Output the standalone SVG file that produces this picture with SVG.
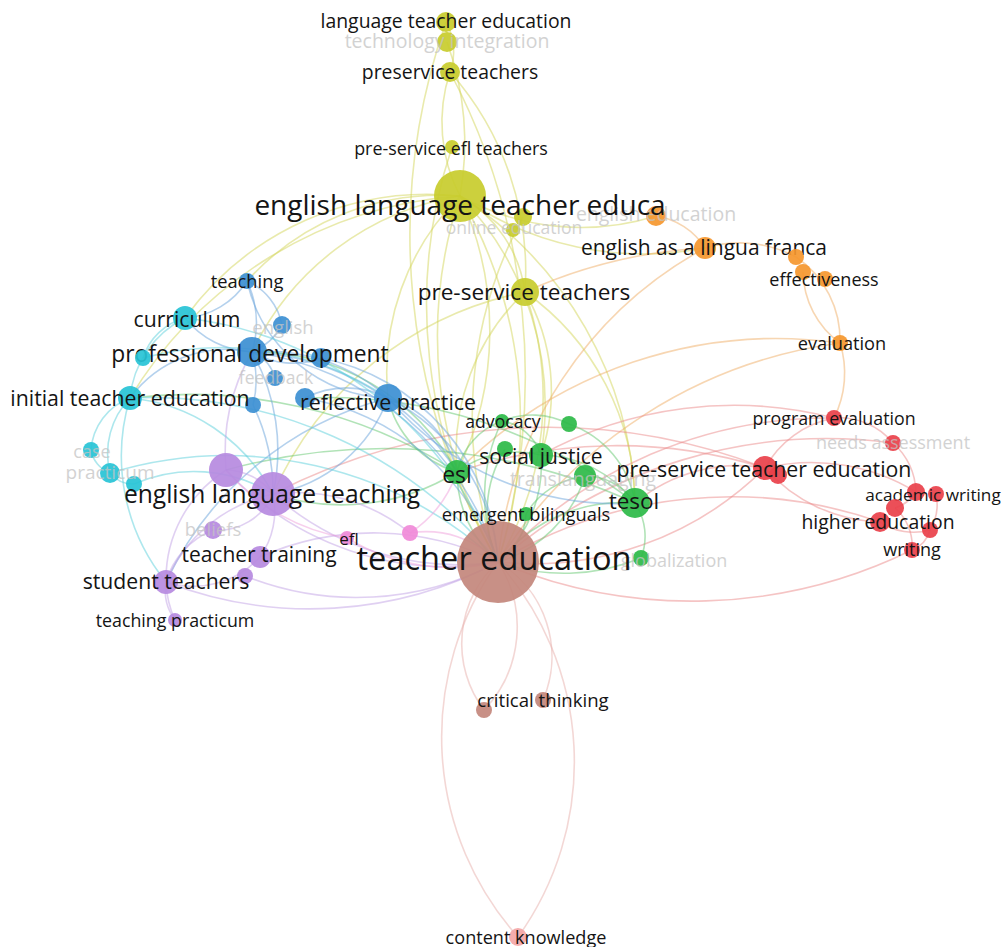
<svg xmlns="http://www.w3.org/2000/svg" width="1008" height="947" viewBox="0 0 1008 947">
<style>
text{font-family:"Open Sans","DejaVu Sans",sans-serif;text-anchor:middle;dominant-baseline:central;fill:#141414}
.f{fill:#c4c4c4;opacity:0.75}
.e path{fill:none;stroke-width:1.6;stroke-opacity:0.5}
.ey path{stroke:#d3d65a}.eo path{stroke:#efae66}.er path{stroke:#eb8a8a}.eg path{stroke:#63c86f}
.eb path{stroke:#6aa3dc}.ec path{stroke:#5ccfdb}.ep path{stroke:#c1a2e6}.ek path{stroke:#f0a0dc}.en path{stroke:#e8b0ac}
.y{fill:#c8cc2c}.o{fill:#f5972e}.r{fill:#e9404a}.g{fill:#2cba48}.n{fill:#c3877c}.b{fill:#3c8fd2}.c{fill:#27c3d6}.p{fill:#b68ae0}.k{fill:#f08ad8}.ck{fill:#f4a6a6}
circle{fill-opacity:0.92}
</style>
<rect width="1008" height="947" fill="#ffffff"/>
<g id="connectors" class="e">
<g class="ey">
<path d="M446 22 A60 60 0 0 1 450 72"/>
<path d="M446 22 A650 650 0 0 0 498 562"/>
<path d="M450 72 A650 650 0 0 1 498 562"/>
<path d="M450 72 A300 300 0 0 1 525 292"/>
<path d="M450 72 A160 160 0 0 0 460 196"/>
<path d="M447 42 A300 300 0 0 1 460 196"/>
<path d="M452 147 A500 500 0 0 0 498 562"/>
<path d="M460 196 A450 450 0 0 1 498 562"/>
<path d="M460 196 A450 450 0 0 0 498 562"/>
<path d="M460 196 A130 130 0 0 1 525 292"/>
<path d="M460 196 A280 280 0 0 0 252 352"/>
<path d="M460 196 A300 300 0 0 0 185 318"/>
<path d="M460 196 A260 260 0 0 0 247 281"/>
<path d="M460 196 A420 420 0 0 0 130 398"/>
<path d="M460 196 A250 250 0 0 0 656 216"/>
<path d="M460 196 A320 320 0 0 0 705 248"/>
<path d="M460 196 A320 320 0 0 1 457 472"/>
<path d="M460 196 A300 300 0 0 1 541 455"/>
<path d="M460 196 A380 380 0 0 1 635 503"/>
<path d="M460 196 A250 250 0 0 0 388 398"/>
<path d="M525 292 A320 320 0 0 1 498 562"/>
<path d="M525 292 A220 220 0 0 0 457 472"/>
<path d="M525 292 A260 260 0 0 1 635 503"/>
<path d="M525 292 A350 350 0 0 0 273 494"/>
<path d="M525 292 A200 200 0 0 1 541 455"/>
<path d="M523 217 A420 420 0 0 0 498 562"/>
</g>
<g class="eo">
<path d="M656 216 A70 70 0 0 1 705 248"/>
<path d="M705 248 A120 120 0 0 1 796 257"/>
<path d="M705 248 A400 400 0 0 0 498 562"/>
<path d="M803 272 A90 90 0 0 0 840 343"/>
<path d="M796 257 A100 100 0 0 1 840 343"/>
<path d="M840 343 A480 480 0 0 0 498 562"/>
<path d="M840 343 A100 100 0 0 1 834 418"/>
<path d="M840 343 A450 450 0 0 0 457 472"/>
<path d="M705 248 A500 500 0 0 0 525 292"/>
</g>
<g class="er">
<path d="M765 468 A100 100 0 0 1 834 418"/>
<path d="M765 468 A160 160 0 0 0 880 522"/>
<path d="M765 468 A200 200 0 0 1 916 492"/>
<path d="M765 468 A330 330 0 0 1 498 562"/>
<path d="M765 468 A160 160 0 0 0 635 503"/>
<path d="M765 468 A600 600 0 0 0 273 494"/>
<path d="M834 418 A70 70 0 0 1 893 443"/>
<path d="M893 443 A70 70 0 0 1 916 492"/>
<path d="M916 492 A40 40 0 0 1 895 508"/>
<path d="M895 508 A50 50 0 0 1 912 550"/>
<path d="M912 550 A30 30 0 0 0 930 530"/>
<path d="M936 494 A50 50 0 0 1 930 530"/>
<path d="M880 522 A60 60 0 0 0 930 530"/>
<path d="M498 562 A500 500 0 0 0 912 550"/>
<path d="M498 562 A450 450 0 0 1 880 522"/>
<path d="M498 562 A450 450 0 0 1 834 418"/>
<path d="M541 455 A400 400 0 0 1 834 418"/>
<path d="M457 472 A500 500 0 0 1 765 468"/>
<path d="M498 562 A500 500 0 0 1 893 443"/>
</g>
<g class="eg">
<path d="M502 421 A50 50 0 0 1 541 455"/>
<path d="M502 421 A70 70 0 0 0 457 472"/>
<path d="M502 421 A170 170 0 0 0 498 562"/>
<path d="M502 421 A80 80 0 0 1 569 424"/>
<path d="M569 424 A100 100 0 0 1 635 503"/>
<path d="M541 455 A120 120 0 0 1 635 503"/>
<path d="M541 455 A130 130 0 0 1 498 562"/>
<path d="M541 455 A100 100 0 0 0 457 472"/>
<path d="M505 449 A120 120 0 0 0 498 562"/>
<path d="M585 476 A60 60 0 0 1 635 503"/>
<path d="M585 476 A130 130 0 0 1 498 562"/>
<path d="M585 476 A80 80 0 0 0 526 514"/>
<path d="M457 472 A120 120 0 0 0 498 562"/>
<path d="M457 472 A230 230 0 0 0 252 352"/>
<path d="M457 472 A220 220 0 0 1 273 494"/>
<path d="M457 472 A100 100 0 0 1 388 398"/>
<path d="M635 503 A160 160 0 0 0 498 562"/>
<path d="M635 503 A60 60 0 0 1 641 558"/>
<path d="M635 503 A600 600 0 0 0 226 470"/>
<path d="M635 503 A500 500 0 0 0 305 398"/>
<path d="M526 514 A60 60 0 0 1 498 562"/>
<path d="M641 558 A200 200 0 0 1 498 562"/>
<path d="M457 472 A500 500 0 0 0 130 398"/>
</g>
<g class="eb">
<path d="M247 281 A80 80 0 0 1 185 318"/>
<path d="M247 281 A100 100 0 0 1 252 352"/>
<path d="M247 281 A60 60 0 0 1 282 325"/>
<path d="M247 281 A150 150 0 0 0 388 398"/>
<path d="M252 352 A180 180 0 0 1 388 398"/>
<path d="M252 352 A60 60 0 0 0 282 325"/>
<path d="M252 352 A40 40 0 0 1 275 378"/>
<path d="M252 352 A80 80 0 0 0 321 358"/>
<path d="M252 352 A120 120 0 0 0 130 398"/>
<path d="M252 352 A90 90 0 0 1 185 318"/>
<path d="M252 352 A300 300 0 0 1 498 562"/>
<path d="M252 352 A200 200 0 0 1 273 494"/>
<path d="M252 352 A260 260 0 0 1 457 472"/>
<path d="M388 398 A200 200 0 0 1 498 562"/>
<path d="M388 398 A90 90 0 0 0 305 398"/>
<path d="M388 398 A150 150 0 0 1 273 494"/>
<path d="M388 398 A340 340 0 0 0 166 582"/>
<path d="M388 398 A100 100 0 0 1 457 472"/>
<path d="M253 405 A100 100 0 0 0 252 352"/>
<path d="M253 405 A200 200 0 0 1 273 494"/>
<path d="M321 358 A220 220 0 0 1 498 562"/>
<path d="M305 398 A250 250 0 0 1 498 562"/>
<path d="M388 398 A300 300 0 0 0 635 503"/>
</g>
<g class="ec">
<path d="M185 318 A100 100 0 0 0 130 398"/>
<path d="M185 318 A60 60 0 0 0 143 358"/>
<path d="M185 318 A380 380 0 0 1 498 562"/>
<path d="M130 398 A60 60 0 0 0 91 450"/>
<path d="M130 398 A80 80 0 0 0 110 473"/>
<path d="M130 398 A180 180 0 0 1 273 494"/>
<path d="M130 398 A200 200 0 0 0 166 582"/>
<path d="M130 398 A450 450 0 0 1 498 562"/>
<path d="M91 450 A30 30 0 0 0 110 473"/>
<path d="M110 473 A30 30 0 0 0 134 484"/>
<path d="M134 484 A150 150 0 0 1 273 494"/>
<path d="M110 473 A400 400 0 0 1 498 562"/>
<path d="M143 358 A300 300 0 0 1 388 398"/>
</g>
<g class="ep">
<path d="M226 470 A60 60 0 0 1 273 494"/>
<path d="M273 494 A60 60 0 0 1 213 530"/>
<path d="M273 494 A80 80 0 0 1 260 557"/>
<path d="M273 494 A150 150 0 0 0 166 582"/>
<path d="M273 494 A280 280 0 0 0 498 562"/>
<path d="M273 494 A180 180 0 0 1 410 533"/>
<path d="M226 470 A300 300 0 0 0 498 562"/>
<path d="M226 470 A130 130 0 0 0 166 582"/>
<path d="M226 470 A200 200 0 0 1 252 352"/>
<path d="M213 530 A80 80 0 0 0 166 582"/>
<path d="M260 557 A280 280 0 0 1 498 562"/>
<path d="M260 557 A90 90 0 0 1 166 582"/>
<path d="M166 582 A50 50 0 0 0 175 620"/>
<path d="M166 582 A400 400 0 0 0 498 562"/>
<path d="M245 576 A300 300 0 0 0 498 562"/>
<path d="M175 620 A100 100 0 0 1 166 582"/>
</g>
<g class="ek">
<path d="M347 538 A200 200 0 0 0 498 562"/>
<path d="M410 533 A100 100 0 0 1 498 562"/>
<path d="M410 533 A120 120 0 0 0 457 472"/>
<path d="M347 538 A200 200 0 0 1 226 470"/>
</g>
<g class="en">
<path d="M498 562 A110 110 0 0 0 484 710"/>
<path d="M498 562 A110 110 0 0 1 543 700"/>
<path d="M498 562 A120 120 0 0 1 484 710"/>
<path d="M498 562 A300 300 0 0 0 518 937"/>
<path d="M498 562 A300 300 0 0 1 518 937"/>
</g>
</g>

<g id="n-technology-integration"><circle class="y" cx="447" cy="42" r="10"/><text class="f" x="447" y="40" font-size="19.5">technology integration</text></g>
<g id="n-english-education"><circle class="o" cx="656" cy="216" r="10"/><text class="f" x="656" y="213" font-size="19.5">english education</text></g>
<g id="n-online-education"><circle class="y" cx="523" cy="217" r="9"/><circle class="y" cx="513" cy="230" r="7"/><text class="f" x="514" y="227" font-size="17.5">online education</text></g>
<g id="n-english"><circle class="b" cx="282" cy="325" r="9"/><text class="f" x="283" y="326" font-size="18.5">english</text></g>
<g id="n-feedback"><circle class="b" cx="275" cy="378" r="8"/><text class="f" x="276" y="377" font-size="17.5">feedback</text></g>
<g id="n-case"><circle class="c" cx="91" cy="450" r="8"/><text class="f" x="92" y="451" font-size="18">case</text></g>
<g id="n-practicum"><circle class="c" cx="110" cy="473" r="10"/><circle class="c" cx="134" cy="484" r="8"/><text class="f" x="110" y="472" font-size="19">practicum</text></g>
<g id="n-beliefs"><circle class="p" cx="213" cy="530" r="9"/><text class="f" x="213" y="528" font-size="18.5">beliefs</text></g>
<g id="n-translanguaging"><circle class="g" cx="585" cy="476" r="11"/><text class="f" x="583" y="478" font-size="19.5">translanguaging</text></g>
<g id="n-needs-assessment"><circle class="r" cx="893" cy="443" r="8"/><text class="f" x="893" y="442" font-size="18">needs assessment</text></g>
<g id="n-globalization"><circle class="g" cx="641" cy="558" r="8"/><text class="f" x="674" y="560" font-size="18">globalization</text></g>

<g id="n-english-language-teacher-education"><circle class="y" cx="460" cy="196" r="26"/><text x="460" y="204" font-size="28">english language teacher educa</text></g>
<g id="n-teacher-education"><circle class="n" cx="498" cy="562" r="41"/><text x="494" y="557" font-size="32.6">teacher education</text></g>
<g id="n-language-teacher-education"><circle class="y" cx="446" cy="22" r="10"/><text x="446" y="20" font-size="19.4">language teacher education</text></g>
<g id="n-preservice-teachers"><circle class="y" cx="450" cy="72" r="10"/><text x="450" y="71" font-size="19.4">preservice teachers</text></g>
<g id="n-pre-service-efl-teachers"><circle class="y" cx="452" cy="147" r="7"/><text x="451" y="148" font-size="17.9">pre-service efl teachers</text></g>
<g id="n-pre-service-teachers"><circle class="y" cx="525" cy="292" r="14"/><text x="524" y="291" font-size="22.6">pre-service teachers</text></g>
<g id="n-english-as-a-lingua-franca"><circle class="o" cx="705" cy="248" r="11"/><text x="704" y="247" font-size="21">english as a lingua franca</text></g>
<g id="n-effectiveness"><circle class="o" cx="796" cy="257" r="8"/><circle class="o" cx="803" cy="272" r="8"/><circle class="o" cx="825" cy="279" r="8"/><text x="824" y="279" font-size="18">effectiveness</text></g>
<g id="n-evaluation"><circle class="o" cx="840" cy="343" r="8"/><text x="842" y="343" font-size="18.2">evaluation</text></g>
<g id="n-program-evaluation"><circle class="r" cx="834" cy="418" r="8"/><text x="834" y="418" font-size="17.8">program evaluation</text></g>
<g id="n-pre-service-teacher-education"><circle class="r" cx="765" cy="468" r="12"/><circle class="r" cx="778" cy="475" r="9"/><text x="764" y="468" font-size="21.3">pre-service teacher education</text></g>
<g id="n-academic-writing"><circle class="r" cx="916" cy="492" r="9"/><circle class="r" cx="936" cy="494" r="8"/><text x="933" y="494" font-size="17.2">academic writing</text></g>
<g id="n-higher-education"><circle class="r" cx="895" cy="508" r="9"/><circle class="r" cx="880" cy="522" r="10"/><circle class="r" cx="930" cy="530" r="8"/><text x="878" y="521" font-size="19.4">higher education</text></g>
<g id="n-writing"><circle class="r" cx="912" cy="550" r="8"/><text x="912" y="549" font-size="18">writing</text></g>
<g id="n-advocacy"><circle class="g" cx="502" cy="421" r="7"/><circle class="g" cx="569" cy="424" r="8"/><text x="503" y="421" font-size="17.6">advocacy</text></g>
<g id="n-social-justice"><circle class="g" cx="505" cy="449" r="8"/><circle class="g" cx="541" cy="455" r="12"/><text x="541" y="456" font-size="21">social justice</text></g>
<g id="n-esl"><circle class="g" cx="457" cy="472" r="12"/><text x="457" y="474" font-size="23">esl</text></g>
<g id="n-tesol"><circle class="g" cx="635" cy="503" r="15"/><text x="634" y="500" font-size="22.5">tesol</text></g>
<g id="n-emergent-bilinguals"><circle class="g" cx="526" cy="514" r="7"/><text x="526" y="513" font-size="18.3">emergent bilinguals</text></g>
<g id="n-critical-thinking"><circle class="n" cx="484" cy="710" r="8"/><circle class="n" cx="543" cy="700" r="8"/><text x="543" y="699" font-size="18.6">critical thinking</text></g>
<g id="n-content-knowledge"><circle class="ck" cx="518" cy="937" r="9"/><text x="526" y="937" font-size="18.1">content knowledge</text></g>
<g id="n-efl"><circle class="k" cx="347" cy="538" r="7"/><circle class="k" cx="410" cy="533" r="8"/><text x="349" y="538" font-size="17">efl</text></g>
<g id="n-teaching"><circle class="b" cx="247" cy="281" r="8"/><text x="247" y="280" font-size="18.3">teaching</text></g>
<g id="n-professional-development"><circle class="b" cx="252" cy="352" r="15"/><circle class="b" cx="321" cy="358" r="10"/><circle class="b" cx="253" cy="405" r="8"/><text x="250" y="353" font-size="22.8">professional development</text></g>
<g id="n-reflective-practice"><circle class="b" cx="305" cy="398" r="10"/><circle class="b" cx="388" cy="398" r="14"/><text x="388" y="401" font-size="21.4">reflective practice</text></g>
<g id="n-curriculum"><circle class="c" cx="185" cy="318" r="12"/><text x="187" y="318" font-size="21.2">curriculum</text></g>
<g id="n-initial-teacher-education"><circle class="c" cx="143" cy="358" r="8"/><circle class="c" cx="130" cy="398" r="12"/><text x="130" y="397" font-size="21.3">initial teacher education</text></g>
<g id="n-english-language-teaching"><circle class="p" cx="226" cy="470" r="17"/><circle class="p" cx="273" cy="494" r="22"/><text x="272" y="493" font-size="24.6">english language teaching</text></g>
<g id="n-teacher-training"><circle class="p" cx="260" cy="557" r="11"/><circle class="p" cx="245" cy="576" r="8"/><text x="259" y="554" font-size="21" fill="#555">teacher training</text></g>
<g id="n-student-teachers"><circle class="p" cx="166" cy="582" r="12"/><text x="166" y="580" font-size="21.2">student teachers</text></g>
<g id="n-teaching-practicum"><circle class="p" cx="175" cy="620" r="7"/><text x="175" y="620" font-size="17.8">teaching practicum</text></g>
</svg>
